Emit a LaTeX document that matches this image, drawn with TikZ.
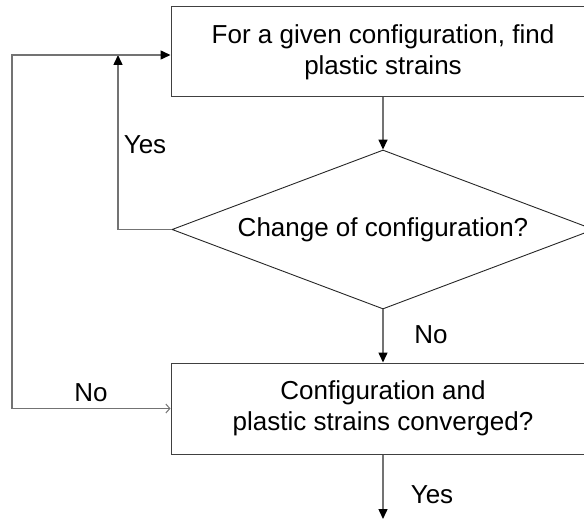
\documentclass[tikz,border=0pt]{standalone}
\usepackage{fontspec}
\setmainfont{Liberation Sans}
\usetikzlibrary{shapes.geometric,arrows.meta}

\tikzset{
  block/.style={draw=black!75, line width=1pt, rectangle, minimum width=424pt,
    minimum height=90pt, align=center, font=\fontsize{26}{31}\selectfont},
  decision/.style={draw=black!85, line width=0.9pt, diamond, aspect=2.65,
    minimum width=422pt, minimum height=159pt, inner sep=0pt,
    font=\fontsize{26}{31}\selectfont},
  conn/.style={draw=black!55, line width=1.5pt},
  tip/.style={-{Triangle[length=10pt,width=9pt,fill=black,color=black]}},
  lbl/.style={font=\fontsize{26}{31}\selectfont}
}

\begin{document}
\begin{tikzpicture}[x=1pt,y=-1pt]
  \useasboundingbox (0,0) rectangle (584,519);
  \clip (0,0) rectangle (584,519);

  \node[block] (find) at (383,52) {For a given configuration, find\\plastic strains};
  \node[decision] (change) at (383,229.5) {Change of configuration?};
  \node[block, minimum height=91pt] (check) at (383,408.5) {Configuration and\\plastic strains converged?};
  \coordinate (yescorner) at (118,55);
  \coordinate (nocorner) at (12,55);
  \coordinate (exit) at (383,519);

  \draw[conn, tip] (find) -- (change);
  \draw[conn, tip] (change) -- (check);
  \draw[conn, tip] (check) -- (exit);
  \draw[conn, tip] (change.west) -| (yescorner);
  \draw[conn, {Straight Barb[length=4pt,width=9pt,line width=1pt]}-{Triangle[length=10pt,width=9pt,fill=black,color=black]}]
    (check.west) -| (nocorner) -- (find.west |- nocorner);

  \node[lbl] (yesloop) at (145,145) {Yes};
  \node[lbl] (noloop) at (91,393) {No};
  \node[lbl] (nodown) at (431,335) {No};
  \node[lbl] (yesdown) at (432,495) {Yes};
\end{tikzpicture}
\end{document}
